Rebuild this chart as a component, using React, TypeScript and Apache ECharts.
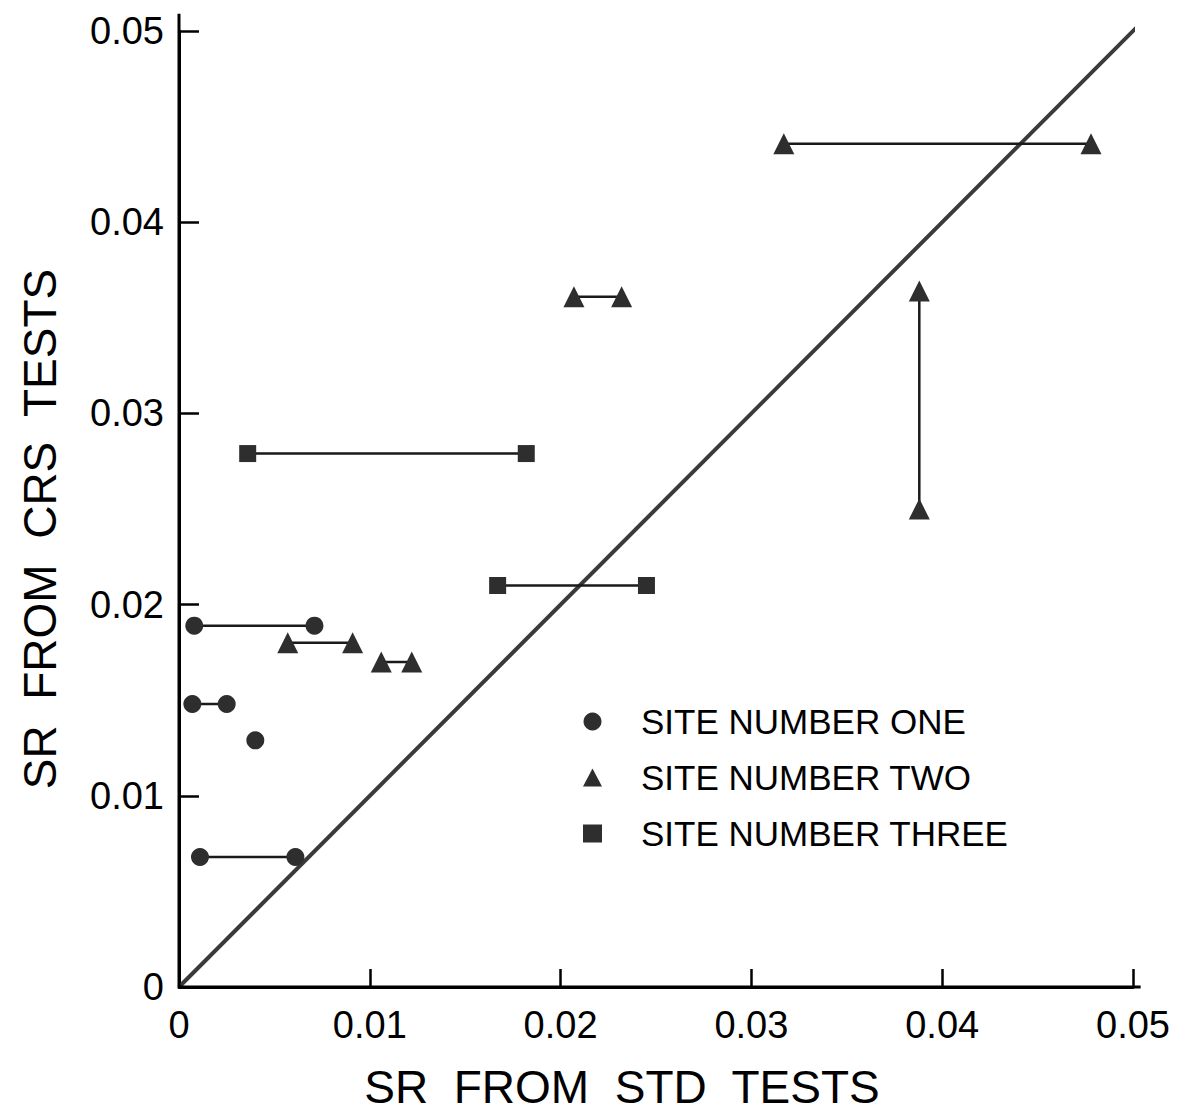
import React, { useEffect, useRef } from "react";
import * as echarts from "echarts";

// Paired SR estimates: [x1, x2, y] -> horizontal segment at y joining the two STD values
const siteOnePairs: number[][] = [
  [0.0008, 0.0071, 0.0189],
  [0.0007, 0.0025, 0.0148],
  [0.0011, 0.0061, 0.0068],
];
const siteOneSingles: number[][] = [[0.0040, 0.0129]];

const siteTwoPairs: number[][] = [
  [0.0057, 0.0091, 0.0180],
  [0.0106, 0.0122, 0.0170],
  [0.0207, 0.0232, 0.0361],
  [0.0317, 0.0478, 0.0441],
];
// Vertical pair: [x, y1, y2]
const siteTwoVertical: number[][] = [[0.0388, 0.0250, 0.0364]];

const siteThreePairs: number[][] = [
  [0.0036, 0.0182, 0.0279],
  [0.0167, 0.0245, 0.0210],
];

const diagonal: number[][] = [
  [0, 0],
  [0.0507, 0.0507],
];

const legendNames = ["SITE NUMBER ONE", "SITE NUMBER TWO", "SITE NUMBER THREE"];

const FONT = "'Liberation Sans', Arial, sans-serif";
const MARK = "#2e2e2e";

function buildSegments(pairs: number[][], singles: number[][] = [], verticals: number[][] = []) {
  const out: any[] = [];
  pairs.forEach(([x1, x2, y]) => {
    out.push([x1, y], [x2, y], "-");
  });
  verticals.forEach(([x, y1, y2]) => {
    out.push([x, y1], [x, y2], "-");
  });
  singles.forEach(([x, y]) => {
    out.push([x, y], "-");
  });
  return out;
}

export default function App() {
  const ref = useRef<HTMLDivElement>(null);

  useEffect(() => {
    if (!ref.current) return;
    const chart = echarts.init(ref.current, null, { renderer: "svg" });

    const fmt = (v: number) => (v === 0 ? "0" : v.toFixed(2));

    const siteSeries = (name: string, symbol: string, size: number, data: any[]) => ({
      name,
      type: "line",
      data,
      symbol,
      symbolSize: size,
      showAllSymbol: true,
      connectNulls: false,
      itemStyle: { color: MARK },
      lineStyle: { color: "#1a1a1a", width: 2.5 },
      z: 5,
    });

    chart.setOption({
      animation: false,
      backgroundColor: "#ffffff",
      grid: {
        left: 171,
        right: 48,
        top: 23,
        bottom: 131,
        containLabel: false,
        outerBoundsMode: "none",
      },
      legend: {
        orient: "vertical",
        left: 583 - 8,
        top: 703 - 8,
        padding: 0,
        itemWidth: 19,
        itemHeight: 18,
        itemGap: 19,
        data: [
          { name: legendNames[0], icon: "circle" },
          { name: legendNames[1], icon: "triangle" },
          { name: legendNames[2], icon: "rect" },
        ],
        textStyle: {
          fontFamily: FONT,
          fontSize: 35,
          color: "#000",
          lineHeight: 37,
          padding: [0, 0, 0, 34],
        },
      },
      xAxis: {
        type: "value",
        min: 0,
        max: 0.05,
        interval: 0.01,
        name: "SR  FROM  STD  TESTS",
        nameLocation: "middle",
        nameGap: 77,
        nameTextStyle: {
          fontFamily: FONT,
          fontSize: 46,
          lineHeight: 46,
          color: "#000",
          padding: [0, 68, 0, 0],
        },
        axisLine: { show: true, onZero: false, lineStyle: { color: "#000", width: 3 } },
        axisTick: { show: true, inside: true, length: 18, lineStyle: { color: "#000", width: 2.5 } },
        axisLabel: { formatter: fmt, fontFamily: FONT, fontSize: 38, color: "#000", margin: 19 },
        splitLine: { show: false },
      },
      yAxis: {
        type: "value",
        min: 0,
        max: 0.05,
        interval: 0.01,
        name: "SR  FROM  CRS  TESTS",
        nameLocation: "middle",
        nameGap: 116,
        nameTextStyle: { fontFamily: FONT, fontSize: 46, color: "#000", padding: [0, 40, 0, 0] },
        axisLine: { show: true, onZero: false, lineStyle: { color: "#000", width: 3 } },
        axisTick: { show: true, inside: true, length: 20, lineStyle: { color: "#000", width: 2.5 } },
        axisLabel: { formatter: fmt, fontFamily: FONT, fontSize: 38, color: "#000", margin: 15 },
        splitLine: { show: false },
      },
      series: [
        {
          name: "equality",
          type: "line",
          data: diagonal,
          symbol: "none",
          clip: false,
          lineStyle: { color: "#3a3a3a", width: 4 },
          z: 3,
          silent: true,
        },
        siteSeries(legendNames[0], "circle", 18, buildSegments(siteOnePairs, siteOneSingles)),
        siteSeries(legendNames[1], "triangle", 21, buildSegments(siteTwoPairs, [], siteTwoVertical)),
        siteSeries(legendNames[2], "rect", 17, buildSegments(siteThreePairs)),
      ],
    });

    // Axis lines run a little past the last tick
    const origin = chart.convertToPixel({ gridIndex: 0 }, [0, 0]) as number[];
    const topEnd = chart.convertToPixel({ gridIndex: 0 }, [0, 0.0509]) as number[];
    const rightEnd = chart.convertToPixel({ gridIndex: 0 }, [0.0504, 0]) as number[];
    chart.setOption({
      graphic: [
        {
          type: "line",
          shape: { x1: origin[0], y1: origin[1], x2: topEnd[0], y2: topEnd[1] },
          style: { stroke: "#000", lineWidth: 3 },
          z: 10,
        },
        {
          type: "line",
          shape: { x1: origin[0], y1: origin[1], x2: rightEnd[0], y2: rightEnd[1] },
          style: { stroke: "#000", lineWidth: 3 },
          z: 10,
        },
      ],
    });

    return () => chart.dispose();
  }, []);

  return <div ref={ref} style={{ width: 1173, height: 1110, marginBottom: -8 }} />;
}
